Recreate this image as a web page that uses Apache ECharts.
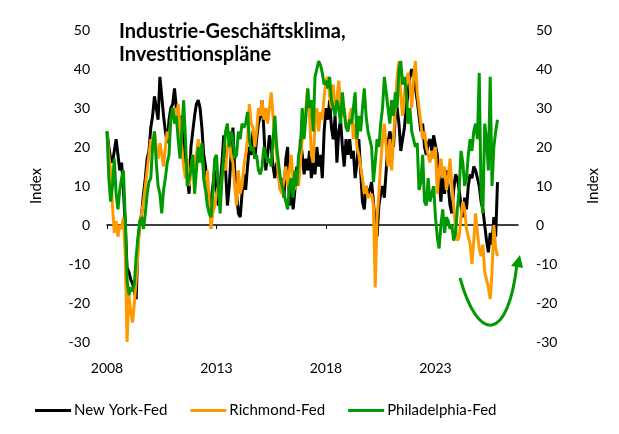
<!DOCTYPE html>
<html>
<head>
<meta charset="utf-8">
<script src="https://cdn.jsdelivr.net/npm/echarts@6/dist/echarts.min.js"></script>
<style>
  html, body { margin: 0; padding: 0; background: #fff; }
  #chart { width: 619px; height: 434px; }
</style>
</head>
<body>
<div id="chart"></div>
<script>
'use strict';

// monthly values, Jan 2008 .. Nov 2025
var startYear = 2008;
var yearTicks = [2008, 2013, 2018, 2023];
var yTicks = [-30, -20, -10, 0, 10, 20, 30, 40, 50];

var newYorkFed = [
    24, 20, 17, 16, 19, 22, 18, 14, 16, 9, 0, -11,
    -12, -14, -15, -17, -19, -4, 0, 3, 8, 12, 17, 19,
    25, 28, 33, 30, 27, 38, 33, 28, 24, 21, 27, 30,
    31, 35, 30, 27, 28, 25, 22, 16, 12, 8, 20, 24,
    28, 31, 32, 30, 25, 18, 15, 10, 4, 6, 10, 14,
    8, 5, 10, 16, 23, 14, 5, 10, 18, 25, 14, 8,
    3, 2, 8, 13, 9, 15, 20, 18, 24, 17, 22, 26,
    28, 32, 24, 14, 18, 23, 20, 15, 12, 16, 14, 9,
    12, 7, 17, 20, 5, 10, 4, 9, 15, 12, 22, 18,
    13, 17, 14, 19, 12, 16, 13, 20, 15, 18, 12, 24,
    30, 27, 32, 25, 22, 28, 16, 24, 27, 20, 15, 22,
    18, 22, 17, 19, 12, 16, 22, 14, 6, 4, 10, 8,
    9, 11, 6, 0, -3, 5, 8, 10, 7, 14, 21, 24,
    24, 20, 28, 30, 26, 19, 22, 25, 30, 34, 38, 40,
    38, 35, 32, 28, 24, 26, 20, 18, 21, 22, 19, 23,
    23, 18, 12, 6, 13, 8, 14, 10, 5, 3, 9, 13,
    12, 9, 5, 2, 7, 4, 10, 13, 12, 15, 14, 12,
    10, 6, 4, 0, -4, -7, -2, -5, 2, -3, 11
];

var richmondFed = [
    24, 18, 14, 5, -2, 1, -3, 0, -1, 2, -8, -30,
    -18, -22, -25, -20, -14, -7, 1, 3, 6, 10, 14, 18,
    22, 19, 24, 20, 17, 21, 18, 15, 20, 24, 22, 27,
    28, 30, 27, 31, 25, 20, 15, 12, 17, 10, 14, 18,
    15, 18, 22, 16, 20, 12, 9, 14, 6, -1, 3, 5,
    8, 10, 6, 12, 16, 14, 20, 22, 18, 16, 10, 5,
    14, 8, 10, 15, 18, 22, 31, 26, 25, 20, 24, 30,
    28, 32, 27, 30, 26, 30, 34, 28, 22, 18, 12, 9,
    8, 12, 15, 10, 14, 18, 11, 9, 13, 10, 16, 22,
    24, 30, 35, 28, 18, 16, 26, 30, 24, 29, 27, 33,
    37, 38, 33, 30, 36, 29, 32, 37, 31, 28, 30, 26,
    24, 28, 30, 22, 26, 20, 18, 15, 12, 8, 10, 7,
    7, 8, 5, -16, 2, 8, 16, 22, 26, 20, 15, 22,
    14, 22, 30, 38, 42, 33, 28, 34, 37, 39, 36, 30,
    38, 42, 34, 30, 26, 22, 24, 20, 18, 16, 19, 17,
    20, 8, 14, 17, 12, 15, 9, 12, 17, 10, 5, -1,
    -4, -3, 2, 6, 4, -1, -3, -5, -10, -4, 3, -2,
    -6, -8, -5, -12, -14, -16, -19, -12, 0, -6, -8
];

var philadelphiaFed = [
    24, 12, 6, 10, 17, 8, 4, 9, 12, 14, 2, -14,
    -18, -16, -17, -15, -8, -3, 1, 2, -1, 3, 8, 11,
    12, 20, 24, 16, 10, 8, 3, 9, 12, 16, 18, 28,
    30, 26, 28, 22, 17, 24, 32, 22, 10, 12, 14, 18,
    8, 14, 20, 16, 21, 12, 9, 5, 3, 2, 8, 17,
    18, 10, 3, 12, 18, 24, 26, 20, 24, 22, 17, 18,
    24, 22, 26, 25, 26, 29, 22, 19, 20, 17, 18, 14,
    13, 15, 20, 18, 16, 17, 15, 22, 28, 20, 16, 12,
    10, 8, 6, 4, 10, 12, 7, 14, 10, 18, 20, 30,
    22, 28, 35, 30, 32, 24, 38, 40, 42, 41, 39, 36,
    37, 35, 38, 32, 30, 28, 32, 30, 26, 34, 29, 25,
    24, 27, 26, 30, 34, 22, 28, 24, 30, 35, 28, 24,
    22, 20, 11, 16, 22, 20, 26, 30, 38, 34, 30, 26,
    32, 28, 34, 30, 40, 42, 36, 38, 34, 26, 30, 24,
    22, 20, 21, 9, 11, 18, 6, 5, 12, 6, 8, 10,
    2, -3, -6, 0, 4, -2, 2, 1, -1, 0, -4, -2,
    4, 9, 19, 16, 10, 12, 18, 22, 19, 24, 26, 22,
    39, 8, 3, 26, 22, 14, 38, 10, 20, 24, 27
];

var seriesNames = ['New York-Fed', 'Richmond-Fed', 'Philadelphia-Fed'];
var seriesColors = ['#000000', '#ff9900', '#009a00'];

function toPoints(values) {
    return values.map(function(v, i) {
        return [startYear + i / 12, v];
    });
}

var font = 'Lato, "Open Sans", sans-serif';

var myChart = echarts.init(document.getElementById('chart'), null, {renderer: 'canvas'});

var yAxisBase = {
    type: 'value',
    min: -30,
    max: 50,
    interval: 10,
    splitLine: {show: false},
    axisLine: {show: false},
    axisTick: {show: false},
    axisLabel: {color: '#000', fontSize: 14, fontFamily: font, margin: 17},
    name: 'Index',
    nameLocation: 'middle',
    nameTextStyle: {color: '#000', fontSize: 15, fontFamily: font}
};

var option = {
    animation: false,
    backgroundColor: '#fff',
    title: {
        text: 'Industrie-Geschäftsklima,\nInvestitionspläne',
        left: 114,
        top: 15,
        textStyle: {fontSize: 20, fontWeight: 'bold', fontFamily: font, color: '#000', lineHeight: 23}
    },
    legend: {
        data: seriesNames,
        left: 30,
        top: 398,
        icon: 'rect',
        itemWidth: 36,
        itemHeight: 3,
        itemGap: 23,
        textStyle: {fontSize: 15, fontFamily: font, color: '#000', padding: [0, 0, 0, -2]}
    },
    grid: {left: 107, right: 101, top: 30, bottom: 92},
    xAxis: [
        {
            type: 'value',
            min: 2008,
            max: 2026.77,
            splitLine: {show: false},
            axisLine: {onZero: true, lineStyle: {color: '#000', width: 1.5}},
            axisTick: {show: true, length: 4, customValues: yearTicks, lineStyle: {color: '#000'}},
            axisLabel: {show: false}
        },
        {
            type: 'value',
            min: 2008,
            max: 2026.77,
            position: 'bottom',
            splitLine: {show: false},
            axisLine: {show: false},
            axisTick: {show: false},
            axisLabel: {
                customValues: yearTicks,
                color: '#000',
                fontSize: 14,
                fontFamily: font,
                margin: 19,
                formatter: function(v) { return String(Math.round(v)); }
            }
        }
    ],
    yAxis: [
        Object.assign({}, yAxisBase, {position: 'left', nameGap: 63}),
        Object.assign({}, yAxisBase, {position: 'right', nameGap: 68, nameRotate: 90,
            axisLabel: {color: '#000', fontSize: 14, fontFamily: font, margin: 18}})
    ],
    series: [
        {
            name: seriesNames[0],
            type: 'line',
            data: toPoints(newYorkFed),
            showSymbol: false,
            lineStyle: {width: 3, color: seriesColors[0]},
            itemStyle: {color: seriesColors[0]},
            z: 3
        },
        {
            name: seriesNames[1],
            type: 'line',
            data: toPoints(richmondFed),
            showSymbol: false,
            lineStyle: {width: 3, color: seriesColors[1]},
            itemStyle: {color: seriesColors[1]},
            z: 4
        },
        {
            name: seriesNames[2],
            type: 'line',
            data: toPoints(philadelphiaFed),
            showSymbol: false,
            lineStyle: {width: 3, color: seriesColors[2]},
            itemStyle: {color: seriesColors[2]},
            z: 5
        }
    ],
    graphic: [
        {
            type: 'bezierCurve',
            shape: {x1: 460, y1: 278, cpx1: 478, cpy1: 343, cpx2: 508, cpy2: 343, x2: 517, y2: 264},
            style: {stroke: '#009a00', lineWidth: 3, fill: null}
        },
        {
            type: 'polygon',
            shape: {points: [[520, 255], [523, 268], [511, 266]]},
            style: {fill: '#009a00'}
        }
    ]
};

myChart.setOption(option);
</script>
</body>
</html>
